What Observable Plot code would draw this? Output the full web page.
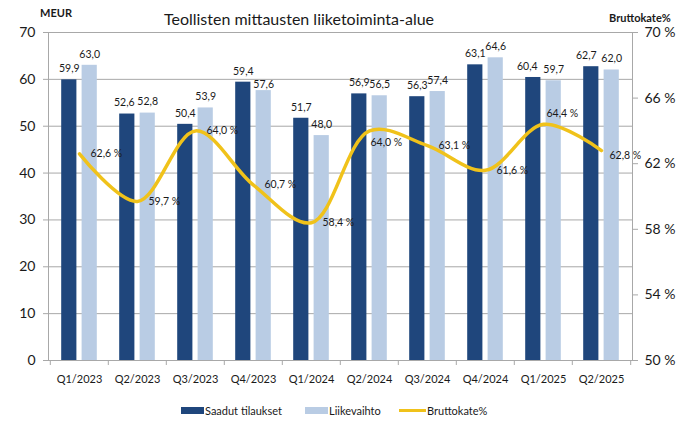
<!DOCTYPE html>
<html>
<head>
<meta charset="utf-8">
<script src="https://cdn.jsdelivr.net/npm/d3@7"></script>
<script src="https://cdn.jsdelivr.net/npm/@observablehq/plot@0.6"></script>
<style>
  body { margin: 0; background: #fff; }
  #chart { position: relative; width: 690px; height: 430px; font-family: Lato, sans-serif; color: #1a1a1a; overflow: hidden; }
  #chart svg { position: absolute; left: 0; top: 0; }
  .abs { position: absolute; white-space: nowrap; line-height: 1; }
  .title { font-size: 16px; left: 299px; top: 11px; transform: translateX(-50%); }
  .unit { font-size: 11px; font-weight: bold; }
  .legend { position: absolute; top: 404px; left: 0; width: 690px; height: 16px; font-size: 11px; }
  .legend .sw { position: absolute; }
  .legend .lab { position: absolute; top: 1px; white-space: nowrap; line-height: 1; }
</style>
</head>
<body>
<div id="chart"></div>
<script>
// Quarterly figures for the Industrial Measurements business area
const quarters = ["Q1/2023", "Q2/2023", "Q3/2023", "Q4/2023", "Q1/2024", "Q2/2024", "Q3/2024", "Q4/2024", "Q1/2025", "Q2/2025"];
const ordersReceived = [59.9, 52.6, 50.4, 59.4, 51.7, 56.9, 56.3, 63.1, 60.4, 62.7];
const netSales = [63.0, 52.8, 53.9, 57.6, 48.0, 56.5, 57.4, 64.6, 59.7, 62.0];
const grossMargin = [62.6, 59.7, 64.0, 60.7, 58.4, 64.0, 63.1, 61.6, 64.4, 62.8];
const meurTicks = [0, 10, 20, 30, 40, 50, 60, 70];
const marginTicks = [50, 54, 58, 62, 66, 70];
const seriesNames = ["Saadut tilaukset", "Liikevaihto", "Bruttokate%"];
const titleText = "Teollisten mittausten liiketoiminta-alue";
const leftUnit = "MEUR";
const rightUnit = "Bruttokate%";

const colors = { orders: "#1F467C", sales: "#B9CCE4", margin: "#F0C21A", grid: "#A8A8A8", text: "#1a1a1a" };

// Layout
const W = 690, H = 430, mL = 48, mR = 58, mT = 32, mB = 70;
const band = (W - mL - mR) / quarters.length;
const half = band / 2;
const barW = 15.6, gap = 4.8;
const outerInset = half - gap / 2 - barW;
const innerInset = half + gap / 2;

// Right axis (gross margin %, 50–70) drawn on the MEUR scale (0–70)
const yMax = meurTicks[meurTicks.length - 1];
const mMin = marginTicks[0], mMax = marginTicks[marginTicks.length - 1];
const toLeft = m => (m - mMin) / (mMax - mMin) * yMax;
const fromLeft = v => mMin + v / yMax * (mMax - mMin);

const fmt1 = v => d3.format(".1f")(v).replace(".", ",");

const rows = quarters.map((q, i) => ({
  q, orders: ordersReceived[i], sales: netSales[i], margin: grossMargin[i], marginY: toLeft(grossMargin[i])
}));

// Hand-placed labels where the default spot would collide
const marginLabelShift = { "Q2/2024": [1, 12], "Q1/2025": [3, -11], "Q2/2025": [8, 5] };
const ordersLabelShift = { "Q2/2023": -3, "Q1/2025": -6, "Q2/2025": -5 };
const salesLabelLift = { "Q4/2023": -5 };

const font = "Lato, sans-serif";
const labelSize = 10.5;

// One text mark per datum so that each label can carry its own offset
const labelMarks = [];
rows.forEach(d => {
  const ox = ordersLabelShift[d.q] || 0;
  const sy = salesLabelLift[d.q] || 0;
  const [mx, my] = marginLabelShift[d.q] || [11, 0];
  labelMarks.push(
    Plot.text([d], { x: "q", y: "orders", text: v => fmt1(v.orders), fontSize: labelSize, fill: colors.text, dx: -(gap / 2 + barW / 2) + ox, dy: -11 }),
    Plot.text([d], { x: "q", y: "sales", text: v => fmt1(v.sales), fontSize: labelSize, fill: colors.text, dx: gap / 2 + barW / 2, dy: -11 - sy }),
    Plot.text([d], { x: "q", y: "marginY", text: v => fmt1(v.margin) + " %", fontSize: labelSize, fill: colors.text, textAnchor: "start", dx: mx, dy: my })
  );
});

const chart = Plot.plot({
  width: W, height: H,
  marginLeft: mL, marginRight: mR, marginTop: mT, marginBottom: mB,
  style: { fontFamily: font, background: "transparent", color: colors.text },
  x: { type: "band", domain: quarters, padding: 0, axis: null },
  y: { domain: [0, yMax], axis: null },
  marks: [
    Plot.gridY(meurTicks, { stroke: colors.grid, strokeOpacity: 1 }),
    Plot.frame({ stroke: colors.grid }),
    // category separators under the baseline
    Plot.ruleX(quarters, { dx: -half, y1: 0, y2: 0, insetBottom: -5, stroke: colors.grid }),
    Plot.ruleX(quarters.slice(-1), { dx: half, y1: 0, y2: 0, insetBottom: -5, stroke: colors.grid }),
    Plot.axisY(meurTicks, {
      anchor: "left", tickSize: 5, tickPadding: 8, fontSize: 14, label: null,
      stroke: colors.grid, fill: colors.text, tickFormat: d => String(d)
    }),
    Plot.axisY(marginTicks.map(toLeft), {
      anchor: "right", tickSize: 5, tickPadding: 7, fontSize: 14, label: null,
      stroke: colors.grid, fill: colors.text, tickFormat: v => `${Math.round(fromLeft(v))} %`
    }),
    Plot.axisX({ tickSize: 0, tickPadding: 15, fontSize: 11, label: null, fill: colors.text }),
    Plot.barY(rows, { x: "q", y: "orders", fill: colors.orders, insetLeft: outerInset, insetRight: innerInset }),
    Plot.barY(rows, { x: "q", y: "sales", fill: colors.sales, insetLeft: innerInset, insetRight: outerInset }),
    Plot.line(rows, { x: "q", y: "marginY", curve: "catmull-rom", stroke: colors.margin, strokeWidth: 3.5 }),
    ...labelMarks
  ]
});

const root = document.getElementById("chart");
root.appendChild(chart);

function addText(cls, text, style) {
  const el = document.createElement("div");
  el.className = "abs " + cls;
  el.textContent = text;
  Object.assign(el.style, style || {});
  root.appendChild(el);
  return el;
}
addText("title", titleText);
addText("unit", leftUnit, { left: "40px", top: "7px" });
addText("unit", rightUnit, { left: "609px", top: "12px" });

// Legend
const legend = document.createElement("div");
legend.className = "legend";
const items = [
  { name: seriesNames[0], color: colors.orders, kind: "box", sx: 181, tx: 205 },
  { name: seriesNames[1], color: colors.sales, kind: "box", sx: 305, tx: 329 },
  { name: seriesNames[2], color: colors.margin, kind: "line", sx: 399, tx: 427 }
];
items.forEach(it => {
  const sw = document.createElement("div");
  sw.className = "sw";
  sw.style.left = it.sx + "px";
  sw.style.background = it.color;
  if (it.kind === "box") { sw.style.width = "23px"; sw.style.height = "7px"; sw.style.top = "3px"; }
  else { sw.style.width = "27px"; sw.style.height = "3px"; sw.style.top = "5px"; }
  const lab = document.createElement("div");
  lab.className = "lab";
  lab.style.left = it.tx + "px";
  lab.textContent = it.name;
  legend.appendChild(sw);
  legend.appendChild(lab);
});
root.appendChild(legend);
</script>
</body>
</html>
